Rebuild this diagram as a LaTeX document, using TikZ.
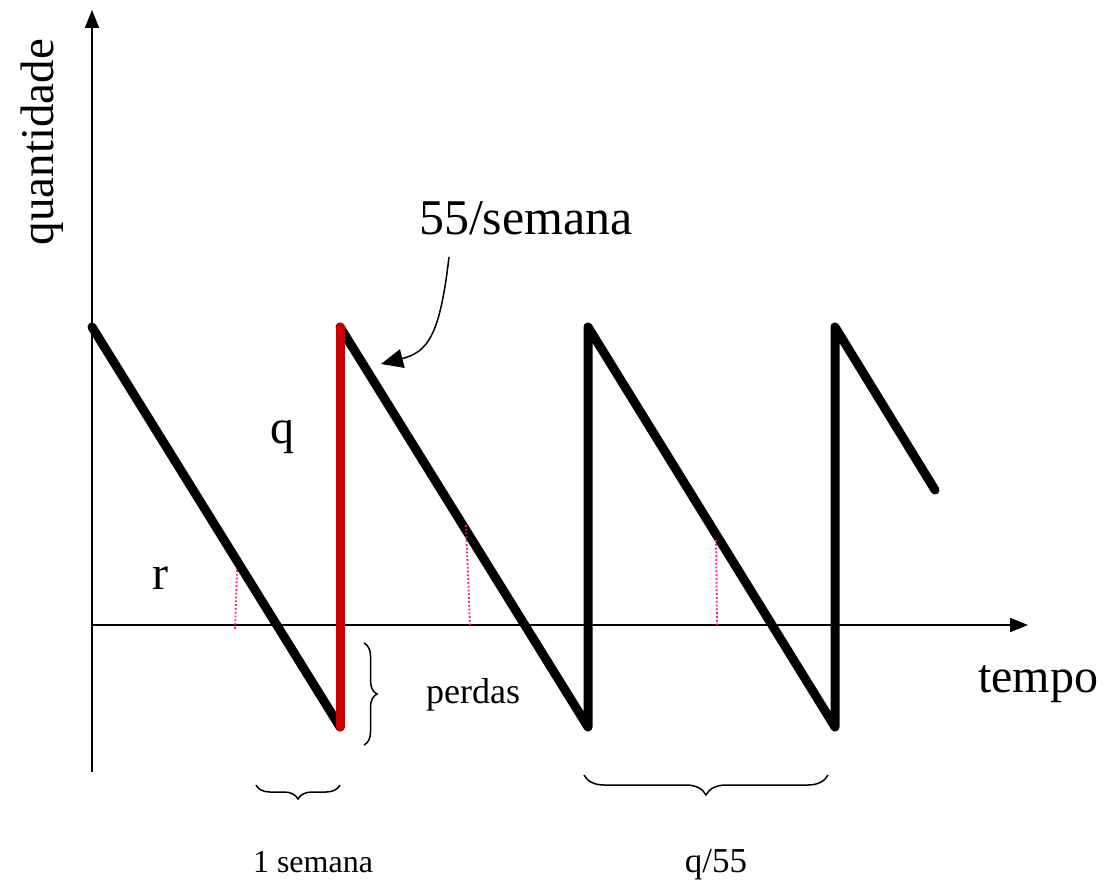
\documentclass[tikz,border=0pt]{standalone}
\usepackage{fontspec}
\setmainfont{Liberation Serif}
\usepackage{xcolor}
\usetikzlibrary{arrows.meta,decorations.pathreplacing}
\definecolor{repred}{RGB}{204,0,0}
\definecolor{lossdot}{RGB}{255,20,140}
\newcommand{\fs}[1]{\fontsize{#1}{#1}\selectfont}

\begin{document}
\begin{tikzpicture}[
  x=1pt, y=-1pt,
  axis/.style={line width=1.8pt, -{Triangle[length=18pt, width=14pt]}},
  saw/.style={line width=9pt, line cap=round, line join=round},
  refill/.style={line width=9pt, repred, line cap=round},
  lost/.style={lossdot, line width=1.8pt, dotted},
  brc/.style={decorate, line width=1.5pt,
              decoration={brace, amplitude=#1}},
  lbl/.style={inner sep=0pt}
]
\useasboundingbox (0,0) rectangle (1110,896);
\coordinate (o) at (92,625);
\coordinate (ybot) at (92,772);
\coordinate (ytop) at (92,10);
\coordinate (xend) at (1028,625);
\draw[axis] (ybot) -- (ytop);
\draw[axis] (o) -- (xend);
\node[lbl, rotate=90] (qty) at (42,142) {\fs{47}quantidade};
\node[lbl, anchor=west] (tmp) at (978,684) {\fs{48}tempo};
% sawtooth
\coordinate (s0) at (92,327);
\coordinate (b1) at (340,727);
\coordinate (t1) at (340,327);
\coordinate (b2) at (588,727);
\coordinate (t2) at (588,327);
\coordinate (b3) at (835,727);
\coordinate (t3) at (835,327);
\coordinate (e3) at (935,490);
\draw[saw] (s0) -- (b1);
\draw[saw] (t1) -- (b2) -- (t2) -- (b3) -- (t3) -- (e3);
\draw[refill] (b1) -- (t1);
% reorder points
\coordinate (r1) at (237,570);
\coordinate (r1x) at (235,630);
\coordinate (r2) at (466,525);
\coordinate (r2x) at (470,625);
\coordinate (r3) at (716,540);
\coordinate (r3x) at (717,625);
\draw[lost] (r1) -- (r1x);
\draw[lost] (r2) -- (r2x);
\draw[lost] (r3) -- (r3x);
\node[lbl] (qlab) at (282,437) {\fs{48}q};
\node[lbl] (rlab) at (160,578) {\fs{48}r};
\node[lbl] (rate) at (526,218) {\fs{50}55/semana};
\coordinate (hit) at (381,364);
\draw[line width=1.5pt, -{Triangle[length=22pt, width=19pt]}]
  ([xshift=-77pt, yshift=-22pt]rate.south) .. controls (440,335) and (428,352) .. (hit);
% braces
\coordinate (p1) at (364,643);
\coordinate (p2) at (364,745);
\draw[brc=13pt] (p1) -- (p2);
\node[lbl, anchor=west] (loss) at (426,695) {\fs{36}perdas};
\coordinate (w1) at (340,785);
\coordinate (w2) at (256,785);
\draw[brc=14pt] (w1) -- (w2);
\node[lbl] (week) at (313,862) {\fs{32}1 semana};
\coordinate (c1) at (828,775);
\coordinate (c2) at (584,775);
\draw[brc=20pt] (c1) -- (c2);
\node[lbl] (cyc) at (716,865) {\fs{35}q/55};
\end{tikzpicture}
\end{document}
